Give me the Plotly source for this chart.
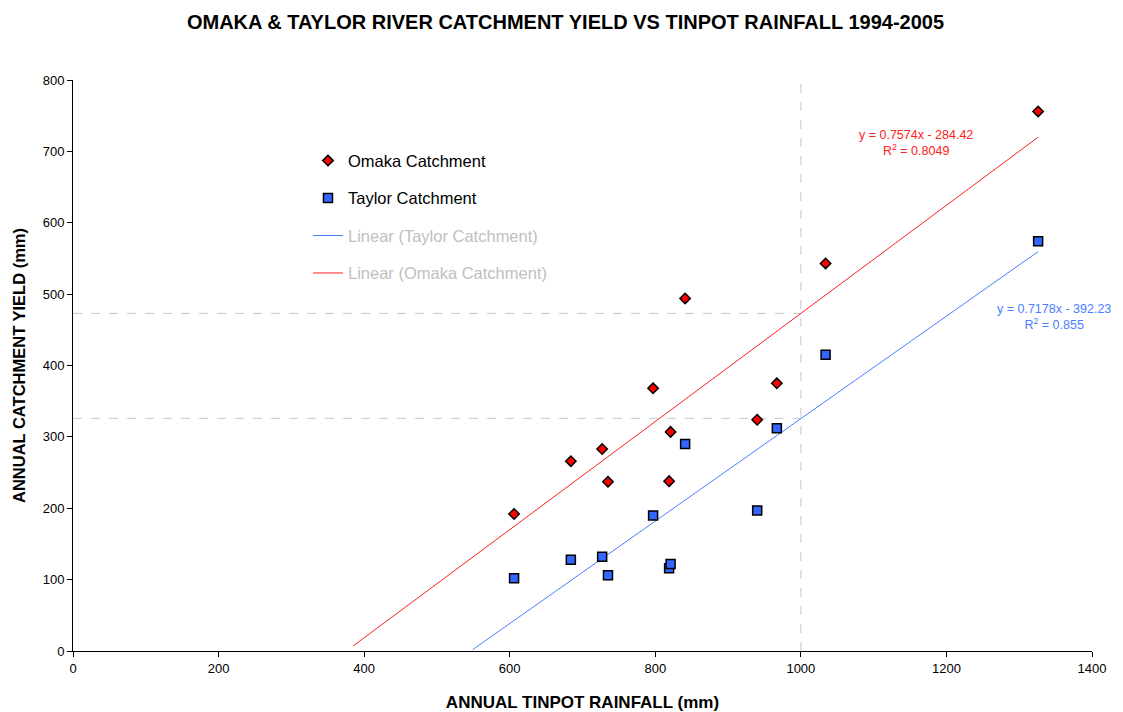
import plotly.graph_objects as go

# annual Tinpot rainfall (mm) for each year, with catchment yields (mm)
rainfall = [606, 684, 727, 735, 797, 819, 821, 841, 940, 967, 1034, 1326]
omaka_yield = [192, 266, 283, 237, 368, 238, 307, 494, 324, 375, 543, 756]
taylor_yield = [102, 128, 132, 106, 190, 116, 122, 290, 197, 312, 415, 574]

# trendline equations as reported on the chart
omaka_slope, omaka_icept = 0.7574, -284.42
taylor_slope, taylor_icept = 0.7178, -392.23
omaka_trend_x = [385, 1326]
taylor_trend_x = [549, 1326]

# reference lines at 1000 mm rainfall
ref_x = 1000
ref_levels = [473, 326]

font = "Arial, Liberation Sans, sans-serif"
grey = "#c0c0c0"

fig = go.Figure()

for lvl in ref_levels:
    fig.add_trace(go.Scatter(x=[0, ref_x], y=[lvl, lvl], mode="lines",
                             line=dict(color="#c8c8c8", width=1, dash="dash"),
                             showlegend=False, hoverinfo="skip"))
fig.add_trace(go.Scatter(x=[ref_x, ref_x], y=[0, 800], mode="lines",
                         line=dict(color="#c8c8c8", width=1, dash="dash"),
                         showlegend=False, hoverinfo="skip"))

fig.add_trace(go.Scatter(
    x=taylor_trend_x, y=[taylor_slope * x + taylor_icept for x in taylor_trend_x],
    mode="lines", line=dict(color="#4a7dff", width=1),
    name=f"<span style='color:{grey}'>Linear (Taylor Catchment)</span>",
    legendgroup="c", legendrank=3))
fig.add_trace(go.Scatter(
    x=omaka_trend_x, y=[omaka_slope * x + omaka_icept for x in omaka_trend_x],
    mode="lines", line=dict(color="#ff2020", width=1),
    name=f"<span style='color:{grey}'>Linear (Omaka Catchment)</span>",
    legendgroup="d", legendrank=4))

fig.add_trace(go.Scatter(
    x=rainfall, y=omaka_yield, mode="markers", name="Omaka Catchment",
    marker=dict(symbol="diamond", size=8, color="#ff0000",
                line=dict(color="black", width=1.5)),
    legendgroup="a", legendrank=1))
fig.add_trace(go.Scatter(
    x=rainfall, y=taylor_yield, mode="markers", name="Taylor Catchment",
    marker=dict(symbol="square", size=9, color="#3366ff",
                line=dict(color="black", width=1.5)),
    legendgroup="b", legendrank=2))

fig.add_annotation(x=1158, y=712, showarrow=False,
                   text="y = 0.7574x - 284.42<br>R<sup>2</sup> = 0.8049",
                   font=dict(family=font, size=12.5, color="#ff2020"))
fig.add_annotation(x=1348, y=468, showarrow=False,
                   text="y = 0.7178x - 392.23<br>R<sup>2</sup> = 0.855",
                   font=dict(family=font, size=12.5, color="#4a7dff"))

fig.update_layout(
    title=dict(text="<b>OMAKA & TAYLOR RIVER CATCHMENT YIELD VS TINPOT RAINFALL 1994-2005</b>",
               x=0.5, xanchor="center", y=0.98, yanchor="middle",
               font=dict(family=font, size=20, color="black")),
    width=1115, height=704,
    margin=dict(l=65, r=31, t=72, b=61),
    paper_bgcolor="white", plot_bgcolor="white",
    font=dict(family=font, color="black"),
    showlegend=True,
    legend=dict(x=0.2306, y=0.889, xanchor="left", yanchor="top",
                bgcolor="rgba(0,0,0,0)", traceorder="grouped", tracegroupgap=13,
                font=dict(family=font, size=16.5, color="black")),
    xaxis=dict(range=[0, 1400], dtick=200, showgrid=False, zeroline=False,
               showline=True, linecolor="black", linewidth=1, automargin=False,
               ticks="outside", ticklen=5, tickcolor="black",
               tickfont=dict(family=font, size=13),
               title=dict(text="<b>ANNUAL TINPOT RAINFALL (mm)</b>",
                          font=dict(family=font, size=17), standoff=22)),
    yaxis=dict(range=[0, 800], dtick=100, showgrid=False, zeroline=False,
               showline=True, linecolor="black", linewidth=1, automargin=False,
               ticks="outside", ticklen=5, tickcolor="black",
               tickfont=dict(family=font, size=13),
               title=dict(text="<b>ANNUAL CATCHMENT YIELD (mm)</b>",
                          font=dict(family=font, size=16.5), standoff=12)),
)

fig.write_html("out.html")
